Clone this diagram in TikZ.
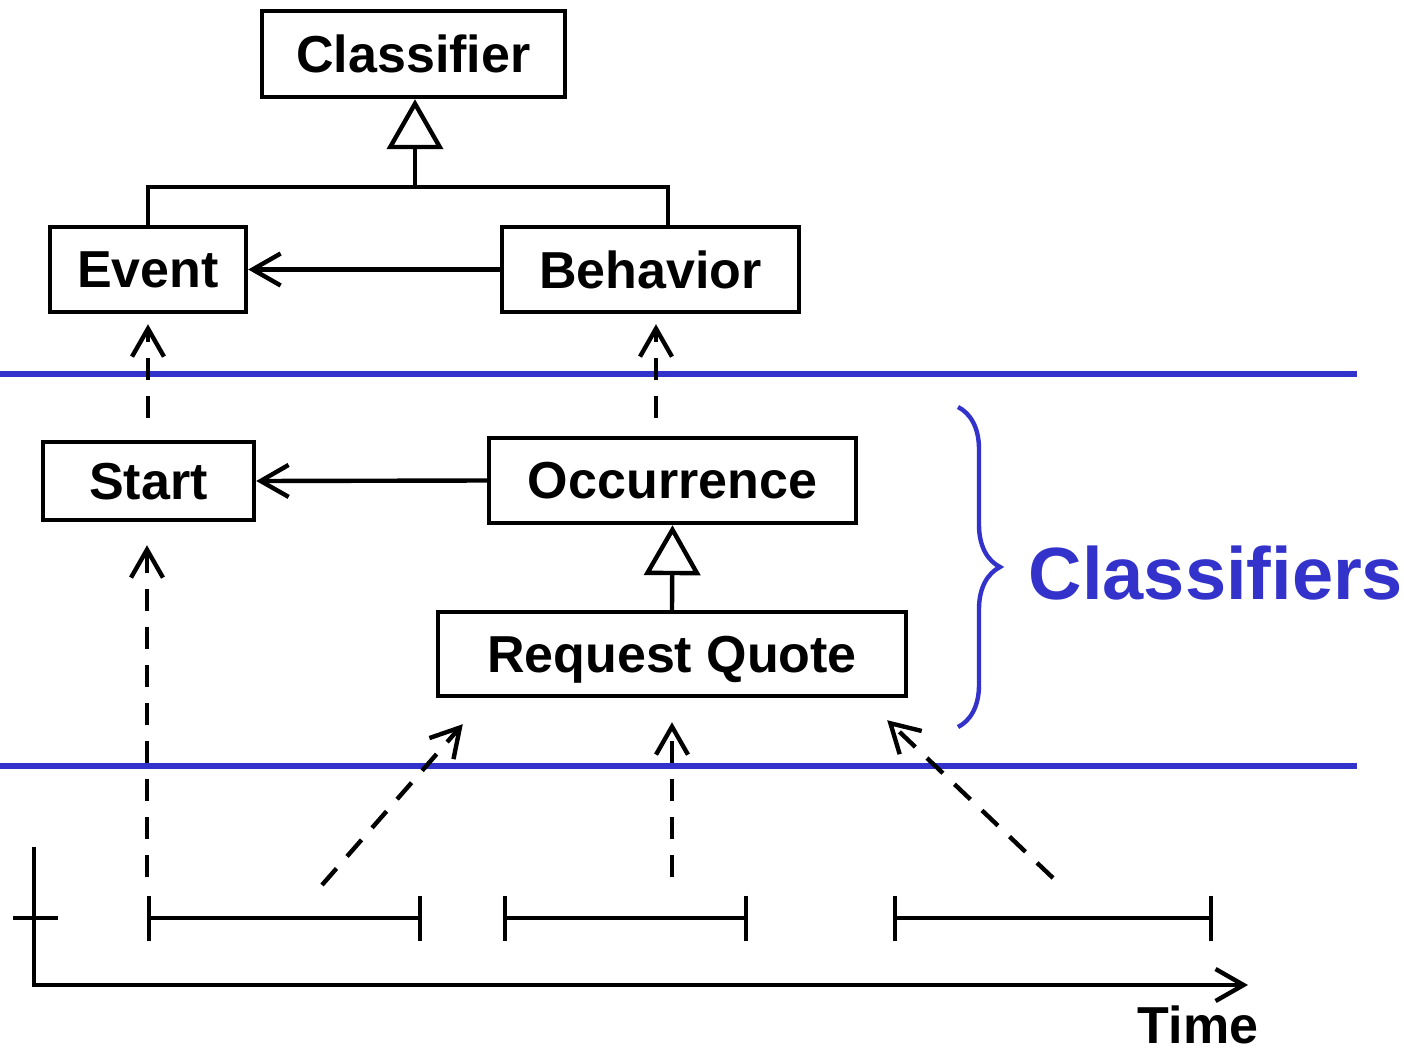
\documentclass[tikz,border=0pt]{standalone}
\usepackage{fontspec}
\setmainfont{Liberation Sans}
\usetikzlibrary{arrows.meta,calc,decorations.pathreplacing}
\definecolor{classblue}{HTML}{3333CC}

\begin{document}
\begin{tikzpicture}[x=0.5pt,y=-0.5pt,line width=2.2pt,
  every node/.style={font=\fontsize{26}{30}\selectfont\bfseries},
  box/.style={draw,rectangle,inner sep=0pt,text depth=0pt},
  assoc/.style={-{Straight Barb[length=14pt,width=16pt]}},
  inst/.style={assoc,dash pattern=on 11pt off 8pt},
  gen/.style={-{Triangle[open,length=25pt,width=28pt]},line join=round},
  interval/.style={{Bar[width=22.5pt]}-{Bar[width=22.5pt]}},
  layer/.style={classblue,line width=3pt}]
\useasboundingbox (0,0) rectangle (1404,1055);
\draw[layer] (0,374) -- (1357,374);
\draw[layer] (0,766) -- (1357,766);
\node[box,minimum width=151.5pt,minimum height=43pt] (classifier) at (413.5,54) {Classifier};
\node[box,minimum width=98pt,minimum height=42.5pt] (event) at (148,269.5) {Event};
\node[box,minimum width=148.5pt,minimum height=42.5pt] (behavior) at (650.5,269.5) {Behavior};
\node[box,minimum width=105.5pt,minimum height=39pt] (start) at (148.5,481) {Start};
\node[box,minimum width=183.5pt,minimum height=42.5pt] (occurrence) at (672.5,480.5) {Occurrence};
\node[box,minimum width=234pt,minimum height=42pt] (request) at (672,654) {Request Quote};
\coordinate (genL) at (148,187);
\coordinate (genM) at (415,187);
\coordinate (genR) at (668,187);
\draw (event.north) -- (genL) -- (genR) -- (genR |- behavior.north);
\draw[gen] (genM) -- (genM |- classifier.south);
\draw[assoc] (behavior.west) -- (event.east);
\draw[assoc] (occurrence.west) -- (start.east);
\draw[gen] (request.north) -- (occurrence.south);
\draw[inst,shorten <=11pt,shorten >=5pt] (start.north -| event.south) -- (event.south);
\draw[inst] ($(occurrence.north)+(-16.5,-18)$) -- ($(behavior.south)+(5.5,10)$);
\coordinate (i1a) at (147,918);
\coordinate (i1b) at (422,918);
\coordinate (i2a) at (503,918);
\coordinate (i2b) at (748,918);
\coordinate (i3a) at (893,918);
\coordinate (i3b) at (1213,918);
\draw[interval] (i1a) -- (i1b);
\draw[interval] (i2a) -- (i2b);
\draw[interval] (i3a) -- (i3b);
\draw[inst,shorten <=20.5pt,shorten >=11.5pt] (i1a) -- (i1a |- start.south);
\coordinate (q1) at (322,885);
\coordinate (q2) at (672,877);
\coordinate (q3) at (1053,878);
\draw[inst] (q1) -- ($(request.south west)+(27,26)$);
\draw[inst] (q2) -- ($(request.south)+(0,24)$);
\draw[inst] (q3) -- ($(request.south east)+(-21,22)$);
\coordinate (ytop) at (34,847);
\coordinate (tend) at (1248,985);
\draw[assoc] (ytop) |- (tend);
\draw (13,918) -- (58,918);
\node[anchor=base,inner sep=0pt,text depth=0pt] (time) at (1198,1043) {Time};
\draw[classblue,decorate,decoration={brace,amplitude=21pt}] (958,407) -- (958,727);
\node[text=classblue,font=\fontsize{37}{40}\selectfont\bfseries] (classifiers) at (1216,573) {Classifiers};
\end{tikzpicture}
\end{document}
